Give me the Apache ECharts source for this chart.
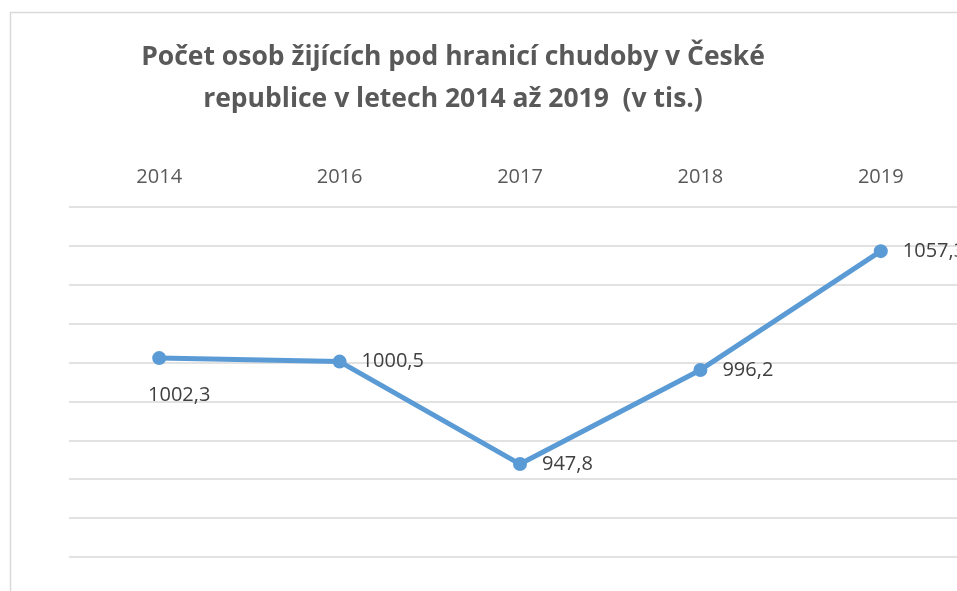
<!DOCTYPE html>
<html>
<head>
    <meta charset="utf-8">
    <title>Počet osob žijících pod hranicí chudoby</title>
    <style type="text/css">
        * {
            margin: 0;
            padding: 0;
        }
        body {
            background: #fff;
        }
    </style>
</head>
<body>
    <div id="chart" style="width: 957px; height: 591px;"></div>

    <script src="https://cdn.jsdelivr.net/npm/echarts@6/dist/echarts.min.js"></script>
    <script type="text/javascript">
        // data
        var years = ['2014', '2016', '2017', '2018', '2019'];
        var persons = [1002.3, 1000.5, 947.8, 996.2, 1057.3];

        var labelFont = '"Open Sans", sans-serif';

        function fmt(v) {
            return v.toFixed(1).replace('.', ',');
        }

        var pointData = persons.map(function (v, i) {
            var item = { value: v };
            if (i === 0) {
                item.label = { position: 'bottom', distance: 20, offset: [20, 0] };
            }
            return item;
        });

        var myChart = echarts.init(document.getElementById('chart'));

        var option = {
            animation: false,
            title: {
                text: 'Počet osob žijících pod hranicí chudoby v České\nrepublice v letech 2014 až 2019  (v tis.)',
                left: 448,
                top: 31,
                textAlign: 'center',
                textStyle: {
                    fontFamily: labelFont,
                    fontSize: 26.5,
                    fontWeight: 'bold',
                    color: '#595959',
                    lineHeight: 42
                }
            },
            graphic: [{
                type: 'rect',
                shape: { x: 10.5, y: 12.5, width: 1000, height: 700 },
                style: { fill: 'none', stroke: '#d9d9d9', lineWidth: 1.5 },
                silent: true
            }],
            grid: {
                left: 69,
                top: 207,
                right: -14,
                height: 350,
                outerBoundsMode: 'none'
            },
            xAxis: {
                type: 'category',
                position: 'top',
                data: years,
                axisLine: { show: false },
                axisTick: { show: false },
                axisLabel: {
                    margin: 20,
                    fontFamily: labelFont,
                    fontSize: 20,
                    color: '#595959'
                }
            },
            yAxis: {
                type: 'value',
                min: 900,
                max: 1080,
                interval: 20,
                axisLabel: { show: false },
                axisLine: { show: false },
                axisTick: { show: false },
                splitLine: {
                    lineStyle: { color: '#d9d9d9', width: 1.5 }
                }
            },
            series: [{
                name: 'Počet osob',
                type: 'line',
                data: pointData,
                symbol: 'circle',
                symbolSize: 14,
                lineStyle: { color: '#5b9bd5', width: 5 },
                itemStyle: { color: '#5b9bd5' },
                label: {
                    show: true,
                    position: 'right',
                    distance: 15,
                    fontFamily: labelFont,
                    fontSize: 20,
                    color: '#404040',
                    formatter: function (p) {
                        return fmt(p.value);
                    }
                }
            }]
        };

        myChart.setOption(option);
    </script>
</body>
</html>
